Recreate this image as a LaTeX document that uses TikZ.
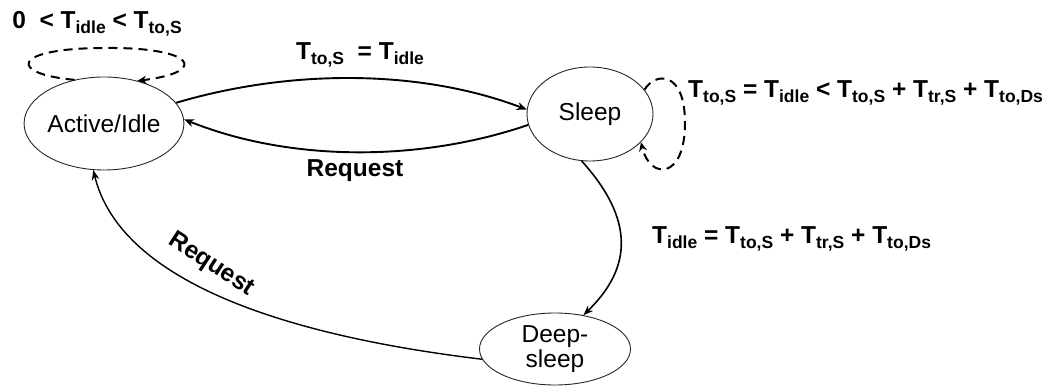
\documentclass[tikz,border=0pt]{standalone}
\usepackage{fontspec}
\setmainfont{Liberation Sans}
\usetikzlibrary{shapes.geometric,arrows.meta}
\newcommand{\Ts}[1]{T\raisebox{-5pt}{\fontsize{17.5}{17.5}\selectfont #1}}
\begin{document}
\begin{tikzpicture}[x=1pt,y=1pt,
 state/.style={ellipse,draw=black!85,line width=0.9pt,inner sep=0pt,font=\fontsize{24.5}{25}\selectfont,align=center},
 conn/.style={line width=1.9pt,-{Stealth[length=10pt,width=8pt]}},
 thinconn/.style={line width=1.4pt,-{Stealth[length=10pt,width=7.5pt]}},
 loopc/.style={line width=2pt,dash pattern=on 9pt off 6pt,-{Stealth[length=9pt,width=8pt]}},
 lbl/.style={font=\bfseries\fontsize{24.5}{26}\selectfont,inner sep=0pt}]
\useasboundingbox (0,0) rectangle (1050,-387);

% states
\node[state,minimum width=152pt,minimum height=93pt] (act) at (104,-123.5) {Active/Idle};
\node[state,minimum width=126pt,minimum height=94pt] (slp) at (590,-114) {Sleep};
\node[state,minimum width=151pt,minimum height=72pt] (dsl) at (555,-349) {Deep-\\sleep};

% transitions
\draw[conn] (act.16) .. controls (290,-69) and (420,-69) .. (slp.176);
\draw[conn] (slp.190) .. controls (420,-162) and (290,-162) .. (act.3);
\draw[thinconn,line width=1.6pt] (slp.260) .. controls (635,-220) and (632,-268) .. (dsl.50);
\draw[thinconn] (dsl.188) .. controls (280,-335) and (120,-280) .. (act.257);

% self loops
\draw[loopc] (act.124) .. controls (8,-74) and (10,-48) .. (105,-48)
   .. controls (195,-47) and (210,-72) .. (act.52);
\draw[loopc] (slp.24) .. controls (655,-72) and (685,-70) .. (685,-123)
   .. controls (685,-180) and (650,-180) .. (slp.-29);

% labels
\node[lbl] (l1) at (97,-24) {0\ \ < \Ts{idle} < \Ts{to,S}};
\node[lbl] (l2) at (360,-55) {\Ts{to,S}\ \ = \Ts{idle}};
\node[lbl] (l3) at (355,-171) {Request};
\node[lbl,anchor=west] (l4) at (688,-93) {\Ts{to,S} = \Ts{idle} < \Ts{to,S} + \Ts{tr,S} + \Ts{to,Ds}};
\node[lbl,anchor=west] (l5) at (652,-239) {\Ts{idle} = \Ts{to,S} + \Ts{tr,S} + \Ts{to,Ds}};
\node[lbl,rotate=-33] (l6) at (211,-265) {Request};
\end{tikzpicture}
\end{document}
